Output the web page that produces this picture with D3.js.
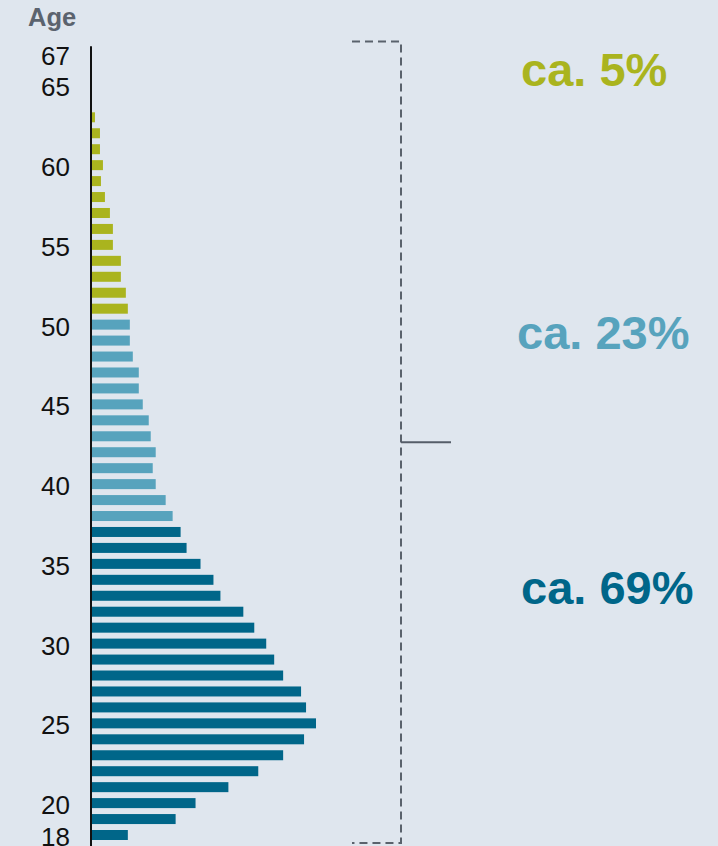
<!DOCTYPE html>
<html>
<head>
<meta charset="utf-8">
<script src="https://cdn.jsdelivr.net/npm/d3@7"></script>
<style>
  html, body { margin: 0; padding: 0; background: #dfe6ee; }
  svg { display: block; font-family: Arial, "Liberation Sans", sans-serif; }
</style>
</head>
<body>
<svg id="chart" width="718" height="846"></svg>
<script>
// ---- Data ----------------------------------------------------------------
// headcount per age (relative units)
var ages = [18, 19, 20, 21, 22, 23, 24, 25, 26, 27, 28, 29, 30, 31, 32, 33, 34, 35,
            36, 37, 38, 39, 40, 41, 42, 43, 44, 45, 46, 47, 48, 49, 50, 51, 52, 53,
            54, 55, 56, 57, 58, 59, 60, 61, 62, 63];
var counts = [37, 85, 105, 138, 168, 193, 214, 226, 216, 211, 193, 184, 176, 164, 153, 130, 123, 110,
              96, 90, 82, 75, 65, 62, 65, 60, 58, 52, 48, 48, 42, 39, 39, 37, 35, 30,
              30, 22, 22, 19, 14, 10, 12, 9, 9, 4];
var tickAges = [18, 20, 25, 30, 35, 40, 45, 50, 55, 60, 65, 67];

// age groups: [from, to], colour, share label
var groupRanges = [[18, 37], [38, 50], [51, 67]];
var groupColors = ['#006689', '#57a3bd', '#aab41e'];
var groupLabels = ['ca. 69%', 'ca. 23%', 'ca. 5%'];
var groupLabelAge = [34.5, 50.5, 67];
var groupLabelX = [521, 517, 521];

// ---- Layout --------------------------------------------------------------
var svg = d3.select('#chart');
var W = 718, H = 846;

svg.append('rect').attr('width', W).attr('height', H).attr('fill', '#dfe6ee');

var y = d3.scaleLinear().domain([18, 67]).range([835, 53.5]);
var x = d3.scaleLinear().domain([0, 226]).range([91, 316]);
var barH = 10;

function colorFor(age) {
  for (var i = 0; i < groupRanges.length; i++) {
    if (age >= groupRanges[i][0] && age <= groupRanges[i][1]) return groupColors[i];
  }
  return '#999';
}

var rows = ages.map(function(a, i) { return { age: a, value: counts[i] }; });

// bars
svg.append('g').selectAll('rect')
  .data(rows)
  .enter().append('rect')
  .attr('x', x(0))
  .attr('y', function(d) { return y(d.age) - barH / 2; })
  .attr('width', function(d) { return x(d.value) - x(0); })
  .attr('height', barH)
  .attr('fill', function(d) { return colorFor(d.age); });

// axis line
svg.append('line')
  .attr('x1', x(0)).attr('x2', x(0))
  .attr('y1', y(67.45)).attr('y2', H)
  .attr('stroke', '#111').attr('stroke-width', 2);

// tick labels
svg.append('g').selectAll('text')
  .data(tickAges)
  .enter().append('text')
  .attr('x', 70)
  .attr('y', function(a) { return y(a) + 11; })
  .attr('text-anchor', 'end')
  .attr('font-size', 26)
  .attr('fill', '#111')
  .text(function(a) { return a; });

// axis title
svg.append('text')
  .attr('x', 28).attr('y', 26)
  .attr('font-size', 25.5).attr('font-weight', 'bold')
  .attr('fill', '#5b636e')
  .text('Age');

// dashed bracket spanning the axis
var bx = 401, bx0 = 352;
var bTop = y(67.75), bBot = H - 3;
var bracket = svg.append('g')
  .attr('stroke', '#5a626c').attr('stroke-width', 2).attr('fill', 'none')
  .attr('stroke-dasharray', '8,5');
bracket.append('path')
  .attr('d', 'M' + bx0 + ',' + bTop + 'H' + bx + 'V' + bBot + 'H' + bx0);

svg.append('line')
  .attr('x1', bx).attr('x2', bx + 50)
  .attr('y1', (bTop + bBot) / 2).attr('y2', (bTop + bBot) / 2)
  .attr('stroke', '#555d68').attr('stroke-width', 2);

// group share labels
svg.append('g').selectAll('text')
  .data(groupLabels)
  .enter().append('text')
  .attr('x', function(d, i) { return groupLabelX[i]; })
  .attr('y', function(d, i) { return y(groupLabelAge[i]) + 32; })
  .attr('font-size', 47).attr('font-weight', 'bold')
  .attr('fill', function(d, i) { return groupColors[i]; })
  .text(function(d) { return d; });
</script>
</body>
</html>
